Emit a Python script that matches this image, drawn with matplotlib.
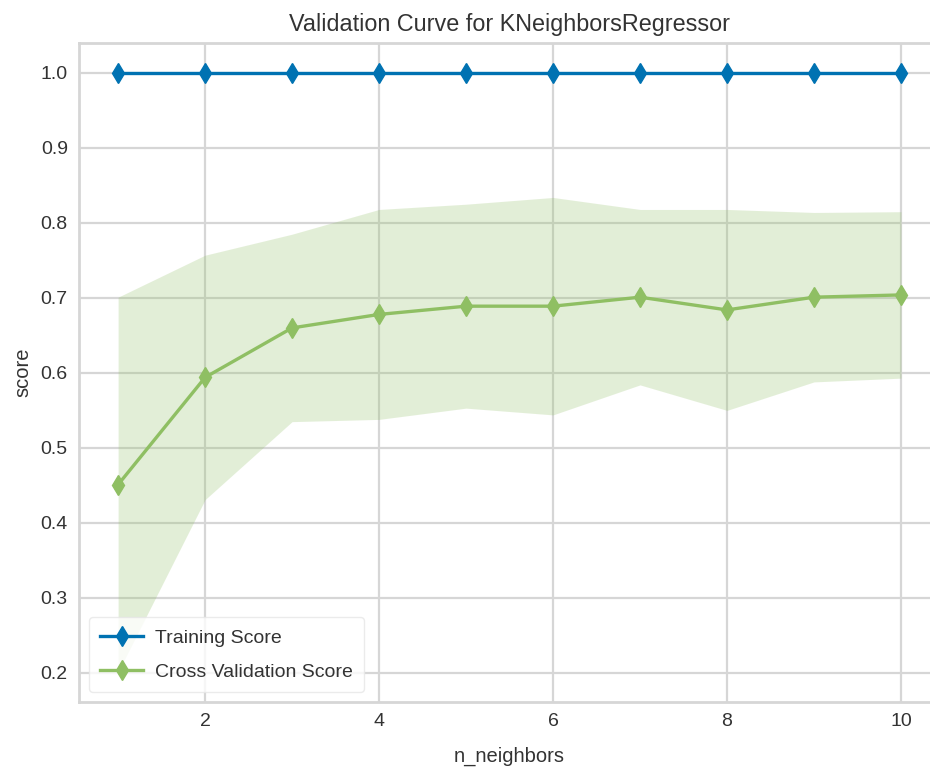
import numpy as np
import matplotlib
matplotlib.use("Agg")
from matplotlib import pyplot as plt

# validation curve values
n_neighbors = [1, 2, 3, 4, 5, 6, 7, 8, 9, 10]
train_mean = [1.0, 1.0, 1.0, 1.0, 1.0, 1.0, 1.0, 1.0, 1.0, 1.0]
train_std = [0.0, 0.0, 0.0, 0.0, 0.0, 0.0, 0.0, 0.0, 0.0, 0.0]
cv_mean = [0.451, 0.594, 0.660, 0.678, 0.689, 0.689, 0.701, 0.684, 0.701, 0.704]
cv_std = [0.250, 0.163, 0.125, 0.140, 0.136, 0.145, 0.117, 0.134, 0.113, 0.111]

plt.rcParams['font.family'] = ['Liberation Sans', 'DejaVu Sans']
text_col = '#333333'
grid_col = '#d6d6d6'

fig = plt.figure(figsize=(9.3, 7.67), dpi=100)
ax = fig.add_axes([0.0849, 0.0847, 0.926, 0.8592])
ax.set_facecolor('white')

x = np.array(n_neighbors)
tm, ts = np.array(train_mean), np.array(train_std)
cm, cs = np.array(cv_mean), np.array(cv_std)

blue = '#0072B2'
green = '#8fbf63'

ax.fill_between(x, tm - ts, tm + ts, color=blue, alpha=0.25, lw=0)
ax.fill_between(x, cm - cs, cm + cs, color=green, alpha=0.25, lw=0)
ax.plot(x, tm, marker='d', color=blue, lw=2.4, ms=10.5, label='Training Score')
ax.plot(x, cm, marker='d', color=green, lw=2.4, ms=10.5, label='Cross Validation Score')

ax.set_xticks([2, 4, 6, 8, 10])
ax.set_yticks([0.2, 0.3, 0.4, 0.5, 0.6, 0.7, 0.8, 0.9, 1.0])
ax.grid(True, color=grid_col, lw=1.6)
ax.set_axisbelow(True)
for s in ax.spines.values():
    s.set_color(grid_col)
    s.set_linewidth(2)
ax.tick_params(length=0, labelsize=14, labelcolor=text_col, pad=8)

ax.set_title('Validation Curve for KNeighborsRegressor', fontsize=16.8, color=text_col, pad=9)
ax.set_xlabel('n_neighbors', fontsize=14.5, color=text_col, labelpad=12)
ax.set_ylabel('score', fontsize=14.5, color=text_col, labelpad=6)

leg = ax.legend(loc='lower left', fontsize=14, frameon=True, borderpad=0.6,
                labelspacing=0.85, handlelength=2.2, handletextpad=0.6)
leg.get_frame().set_facecolor('white')
leg.get_frame().set_edgecolor('#e6e6e6')
for t in leg.get_texts():
    t.set_color(text_col)

fig.savefig('out.png', dpi=100)
